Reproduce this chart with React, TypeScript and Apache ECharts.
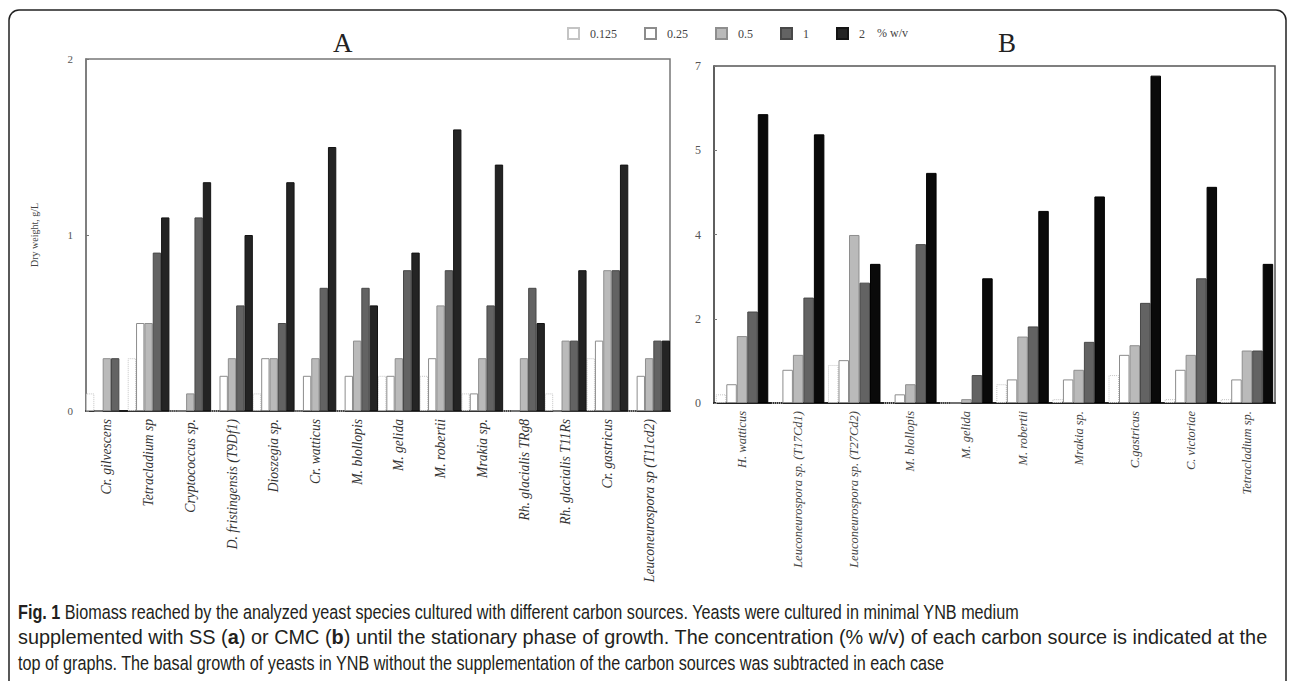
import React, { useEffect, useRef } from "react";
import * as echarts from "echarts";

// ---- Data ----
const concentrations = ["0.125", "0.25", "0.5", "1", "2"];

const speciesA = [
  "Cr. gilvescens",
  "Tetracladium sp",
  "Cryptococcus sp.",
  "D. fristingensis (T9Df1)",
  "Dioszegia sp.",
  "Cr. watticus",
  "M. blollopis",
  "M. gelida",
  "M. robertii",
  "Mrakia sp.",
  "Rh. glacialis TRg8",
  "Rh. glacialis T11Rs",
  "Cr. gastricus",
  "Leuconeurospora sp (T11cd2)",
];

const a0125 = [0.1, 0.3, 0, 0, 0.1, 0, 0, 0.2, 0.2, 0.1, 0, 0.1, 0.3, 0];
const a025 = [0, 0.5, 0, 0.2, 0.3, 0.2, 0.2, 0.2, 0.3, 0.1, 0, 0, 0.4, 0.2];
const a05 = [0.3, 0.5, 0.1, 0.3, 0.3, 0.3, 0.4, 0.3, 0.6, 0.3, 0.3, 0.4, 0.8, 0.3];
const a1 = [0.3, 0.9, 1.1, 0.6, 0.5, 0.7, 0.7, 0.8, 0.8, 0.6, 0.7, 0.4, 0.8, 0.4];
const a2 = [0, 1.1, 1.3, 1.0, 1.3, 1.5, 0.6, 0.9, 1.6, 1.4, 0.5, 0.8, 1.4, 0.4];

const speciesB = [
  "H. watticus",
  "Leuconeurospora sp. (T17Cd1)",
  "Leuconeurospora sp. (T27Cd2)",
  "M. blollopis",
  "M. gelida",
  "M. robertii",
  "Mrakia sp.",
  "C.gastricus",
  "C. victoriae",
  "Tetracladium sp.",
];

const b0125 = [0.18, 0, 0.79, 0, 0, 0.39, 0.08, 0.58, 0.08, 0.08];
const b025 = [0.39, 0.69, 0.89, 0.18, 0, 0.49, 0.49, 1.0, 0.69, 0.49];
const b05 = [1.39, 1.0, 3.49, 0.39, 0.08, 1.38, 0.69, 1.2, 1.0, 1.09];
const b1 = [1.9, 2.19, 2.5, 3.3, 0.58, 1.59, 1.27, 2.08, 2.59, 1.09];
const b2 = [6.0, 5.58, 2.89, 4.78, 2.59, 3.99, 4.29, 6.8, 4.49, 2.89];

const yTicksA = ["0", "1", "2"];
const yTicksB = ["0", "2", "4", "5", "7"];

const captionLines = [
  "{b|Fig. 1} Biomass reached by the analyzed yeast species cultured with different carbon sources. Yeasts were cultured in minimal YNB medium",
  "supplemented with SS ({b|a}) or CMC ({b|b}) until the stationary phase of growth. The concentration (% w/v) of each carbon source is indicated at the",
  "top of graphs. The basal growth of yeasts in YNB without the supplementation of the carbon sources was subtracted in each case",
];

// ---- Styles ----
const SERIF = "'Liberation Serif', 'Times New Roman', serif";
const SANS = "'Liberation Sans', Arial, sans-serif";

const barStyles = [
  { color: "#ffffff", borderColor: "#c4c4c4", borderType: "dotted", borderWidth: 1 },
  { color: "#ffffff", borderColor: "#8c8c8c", borderWidth: 1 },
  { color: "#bababa", borderColor: "#8e8e8e", borderWidth: 1 },
  { color: "#636363", borderColor: "#484848", borderWidth: 1 },
  { color: "#242424", borderColor: "#141414", borderWidth: 1 },
];

let ctx: CanvasRenderingContext2D | null = null;
function measure(text: string, font: string, boldFont: string) {
  if (!ctx) ctx = document.createElement("canvas").getContext("2d");
  const c = ctx;
  if (!c) return text.length * 8;
  let w = 0;
  const parts = text.split(/(\{b\|[^}]*\})/);
  for (const p of parts) {
    const m = p.match(/^\{b\|([^}]*)\}$/);
    if (m) {
      c.font = boldFont;
      w += c.measureText(m[1]).width;
    } else if (p) {
      c.font = font;
      w += c.measureText(p).width;
    }
  }
  return w;
}

export default function App() {
  const ref = useRef<HTMLDivElement>(null);

  useEffect(() => {
    if (!ref.current) return;
    const chart = echarts.init(ref.current, undefined, { renderer: "svg" });

    const seriesA = [a0125, a025, a05, a1, a2].map((d, i) => ({
      name: concentrations[i],
      type: "bar",
      xAxisIndex: 0,
      yAxisIndex: 0,
      data: d,
      barGap: "0%",
      barCategoryGap: "0%",
      itemStyle: barStyles[i],
    }));
    const seriesB = [b0125, b025, b05, b1, b2].map((d, i) => ({
      name: concentrations[i],
      type: "bar",
      xAxisIndex: 1,
      yAxisIndex: 1,
      data: d,
      barGap: "0%",
      barCategoryGap: "6.5%",
      itemStyle: i === 4 ? { color: "#0a0a0a", borderColor: "#000", borderWidth: 1 } : barStyles[i],
    }));

    // ---- caption: each line fitted to its width in the reference ----
    const capSize = 19.5;
    const capFont = `${capSize}px ${SANS}`;
    const capBold = `bold ${capSize}px ${SANS}`;
    const s1 = 1002 / measure(captionLines[0], capFont, capBold);
    const s2 = 1250 / measure(captionLines[1], capFont, capBold);
    const scales = [s1, s2, s1];
    const capY = [612, 637.5, 663];

    const captionEls = captionLines.map((t, i) => ({
      type: "text",
      x: 18,
      y: capY[i],
      scaleX: scales[i],
      style: {
        text: t,
        fontFamily: SANS,
        fontSize: capSize,
        fill: "#231f20",
        verticalAlign: "middle",
        rich: { b: { fontFamily: SANS, fontSize: capSize, fontWeight: "bold", fill: "#231f20" } },
      },
    }));

    const catLabel = {
      rotate: 90,
      interval: 0,
      fontFamily: SERIF,
      fontStyle: "italic",
      fontSize: 13.6,
      color: "#333",
      margin: 8,
    };

    chart.setOption({
      animation: false,
      backgroundColor: "#ffffff",
      title: [
        { text: "A", left: 328, top: 24, textStyle: { fontFamily: SERIF, fontSize: 27, fontWeight: "normal", color: "#222" } },
        { text: "B", left: 993, top: 24, textStyle: { fontFamily: SERIF, fontSize: 27, fontWeight: "normal", color: "#222" } },
      ],
      legend: {
        left: 562,
        top: 22,
        icon: "rect",
        itemWidth: 11,
        itemHeight: 11,
        itemGap: 27,
        data: concentrations,
        textStyle: { fontFamily: SERIF, fontSize: 12, color: "#444", padding: [0, 0, 0, 6] },
      },
      grid: [
        { left: 86, top: 59, width: 584, height: 352, show: true, borderColor: "#777", borderWidth: 1.5, containLabel: false },
        { left: 714, top: 66, width: 561, height: 337, show: true, borderColor: "#555", borderWidth: 1.5, containLabel: false },
      ],
      xAxis: [
        {
          type: "category",
          gridIndex: 0,
          data: speciesA,
          axisLine: { lineStyle: { color: "#333", width: 2 } },
          axisTick: { show: false },
          axisLabel: catLabel,
        },
        {
          type: "category",
          gridIndex: 1,
          data: speciesB,
          axisLine: { lineStyle: { color: "#222", width: 2 } },
          axisTick: { show: false },
          axisLabel: { ...catLabel, fontSize: 12.5, color: "#444" },
        },
      ],
      yAxis: [
        {
          type: "value",
          gridIndex: 0,
          min: 0,
          max: 2,
          interval: 1,
          splitLine: { show: false },
          axisLine: { show: true, lineStyle: { color: "#777", width: 1.5 } },
          axisTick: { show: true, inside: true, length: 3, lineStyle: { color: "#777" } },
          axisLabel: {
            fontFamily: SERIF,
            fontSize: 11,
            color: "#555",
            margin: 13,
            formatter: (v: number) => yTicksA[Math.round(v)] ?? "",
          },
          name: "Dry weight, g/L",
          nameLocation: "middle",
          nameGap: 47,
          nameRotate: 90,
          nameTextStyle: { fontFamily: SERIF, fontSize: 10, color: "#444" },
        },
        {
          type: "value",
          gridIndex: 1,
          min: 0,
          max: 7,
          interval: 1.75,
          splitLine: { show: false },
          axisLine: { show: true, lineStyle: { color: "#555", width: 1.5 } },
          axisTick: { show: true, inside: true, length: 3, lineStyle: { color: "#777" } },
          axisLabel: {
            fontFamily: SERIF,
            fontSize: 12,
            color: "#555",
            margin: 13,
            formatter: (v: number) => yTicksB[Math.round(v / 1.75)] ?? "",
          },
        },
      ],
      series: [...seriesA, ...seriesB],
      graphic: [
        {
          type: "rect",
          shape: { x: 9, y: 10, width: 1277, height: 700, r: 10 },
          style: { fill: "none", stroke: "#222", lineWidth: 1.5 },
          silent: true,
        },
        {
          type: "text",
          x: 877,
          y: 33,
          style: { text: "% w/v", fontFamily: SERIF, fontSize: 12, fill: "#444", verticalAlign: "middle" },
        },
        ...captionEls,
      ],
    });

    return () => chart.dispose();
  }, []);

  return (
    <div
      ref={ref}
      style={{ position: "fixed", left: 0, top: 0, width: 1290, height: 681, background: "#fff" }}
    />
  );
}
